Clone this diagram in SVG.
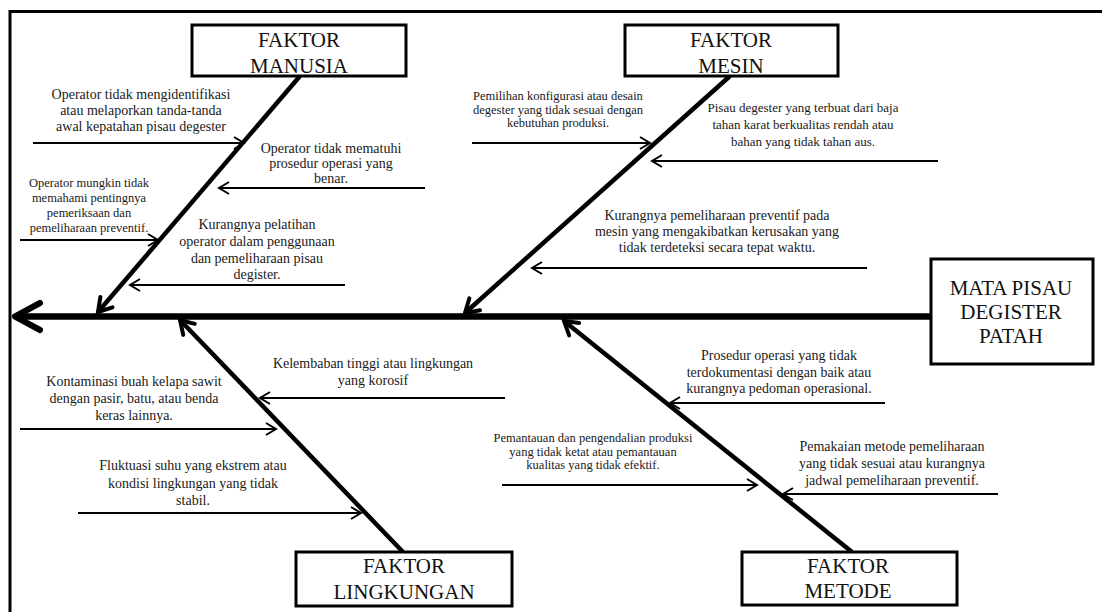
<svg xmlns="http://www.w3.org/2000/svg" width="1102" height="612" viewBox="0 0 1102 612">
<style>
.box{fill:#fff;stroke:#000;stroke-width:3}
.bt{font-family:"Liberation Serif","Times New Roman",serif;font-size:21px;fill:#111;text-anchor:middle}
.t{font-family:"Liberation Serif","Times New Roman",serif;font-size:14px;fill:#1a1a1a;text-anchor:middle}
.ts{font-family:"Liberation Serif","Times New Roman",serif;font-size:12.5px;fill:#1a1a1a;text-anchor:middle}
.sm{fill:none;stroke:#000;stroke-width:2;marker-end:url(#ah)}
.sp{fill:none;stroke:#000;stroke-width:4.5;marker-end:url(#sh)}
.frame{fill:none;stroke:#000;stroke-width:3}
</style>
<defs>
<marker id="ah" markerUnits="userSpaceOnUse" markerWidth="16" markerHeight="16" refX="12" refY="8" orient="auto" overflow="visible">
<path d="M2,2 L12,8 L2,14" fill="none" stroke="#000" stroke-width="2"/>
</marker>
<marker id="sh" markerUnits="userSpaceOnUse" markerWidth="20" markerHeight="20" refX="15" refY="10" orient="auto" overflow="visible">
<path d="M2,2 L15,10 L2,18" fill="none" stroke="#000" stroke-width="4" stroke-linecap="round"/>
</marker>
</defs>
<rect width="1102" height="612" fill="#fff"/>
<g id="frame">
<path class="frame" d="M10,612 L10,11.5 L1102,11.5"/>
</g>
<g id="connectors">
<line x1="930" y1="316.5" x2="16" y2="316.5" stroke="#000" stroke-width="6.5"/>
<path d="M40,303 L15,316.5 L40,330" fill="none" stroke="#000" stroke-width="6" stroke-linecap="round" stroke-linejoin="round"/>
<line class="sp" x1="300" y1="76" x2="98" y2="312"/>
<line class="sp" x1="730" y1="76" x2="465" y2="313"/>
<line class="sp" x1="403" y1="552" x2="180" y2="320"/>
<line class="sp" x1="852" y1="552" x2="564" y2="321"/>
<line class="sm" x1="33" y1="143" x2="244" y2="143"/>
<line class="sm" x1="425" y1="188" x2="219" y2="188"/>
<line class="sm" x1="20" y1="240" x2="158" y2="240"/>
<line class="sm" x1="345" y1="285" x2="130" y2="285"/>
<line class="sm" x1="472" y1="143" x2="650" y2="143"/>
<line class="sm" x1="938" y1="161" x2="652" y2="161"/>
<line class="sm" x1="867" y1="268" x2="532" y2="268"/>
<line class="sm" x1="505" y1="398" x2="260" y2="398"/>
<line class="sm" x1="20" y1="429" x2="276" y2="429"/>
<line class="sm" x1="78" y1="513" x2="361" y2="513"/>
<line class="sm" x1="885" y1="403" x2="670" y2="403"/>
<line class="sm" x1="502" y1="485" x2="757" y2="485"/>
<line class="sm" x1="998" y1="494" x2="783" y2="494"/>
</g>
<g id="head">
<rect class="box" x="931" y="259" width="162" height="105"/>
<text class="bt" x="1011" y="295">MATA PISAU</text>
<text class="bt" x="1011" y="319">DEGISTER</text>
<text class="bt" x="1011" y="343">PATAH</text>
</g>
<g id="faktor-manusia">
<rect class="box" x="192" y="25" width="214" height="51"/>
<text class="bt" x="299" y="47">FAKTOR</text>
<text class="bt" x="299" y="72.5">MANUSIA</text>
</g>
<g id="faktor-mesin">
<rect class="box" x="625" y="25" width="213" height="51"/>
<text class="bt" x="731" y="47">FAKTOR</text>
<text class="bt" x="731" y="72.5">MESIN</text>
</g>
<g id="faktor-lingkungan">
<rect class="box" x="296" y="552" width="216" height="54"/>
<text class="bt" x="404" y="573">FAKTOR</text>
<text class="bt" x="404" y="599">LINGKUNGAN</text>
</g>
<g id="faktor-metode">
<rect class="box" x="742" y="552" width="215" height="53"/>
<text class="bt" x="848" y="573">FAKTOR</text>
<text class="bt" x="848" y="598">METODE</text>
</g>
<g id="cause-m1">
<text class="t" x="141" y="99">Operator tidak mengidentifikasi</text>
<text class="t" x="141" y="115">atau melaporkan tanda-tanda</text>
<text class="t" x="141" y="131">awal kepatahan pisau degester</text>
</g>
<g id="cause-m2">
<text class="t" x="331" y="153">Operator tidak mematuhi</text>
<text class="t" x="331" y="168">prosedur operasi yang</text>
<text class="t" x="331" y="183">benar.</text>
</g>
<g id="cause-m3">
<text class="ts" x="89" y="187">Operator mungkin tidak</text>
<text class="ts" x="89" y="202">memahami pentingnya</text>
<text class="ts" x="89" y="217">pemeriksaan dan</text>
<text class="ts" x="89" y="232">pemeliharaan preventif.</text>
</g>
<g id="cause-m4">
<text class="t" x="257" y="229">Kurangnya pelatihan</text>
<text class="t" x="257" y="246">operator dalam penggunaan</text>
<text class="t" x="257" y="263">dan pemeliharaan pisau</text>
<text class="t" x="257" y="279">degister.</text>
</g>
<g id="cause-s1">
<text class="ts" x="558" y="100">Pemilihan konfigurasi atau desain</text>
<text class="ts" x="558" y="113.5">degester yang tidak sesuai dengan</text>
<text class="ts" x="558" y="127">kebutuhan produksi.</text>
</g>
<g id="cause-s2">
<text class="ts" x="803" y="112" style="font-size:13px">Pisau degester yang terbuat dari baja</text>
<text class="ts" x="803" y="129" style="font-size:13px">tahan karat berkualitas rendah atau</text>
<text class="ts" x="803" y="146" style="font-size:13px">bahan yang tidak tahan aus.</text>
</g>
<g id="cause-s3">
<text class="t" x="717" y="220">Kurangnya pemeliharaan preventif pada</text>
<text class="t" x="717" y="236">mesin yang mengakibatkan kerusakan yang</text>
<text class="t" x="717" y="252">tidak terdeteksi secara tepat waktu.</text>
</g>
<g id="cause-l1">
<text class="t" x="373" y="368">Kelembaban tinggi atau lingkungan</text>
<text class="t" x="373" y="385">yang korosif</text>
</g>
<g id="cause-l2">
<text class="t" x="134" y="386">Kontaminasi buah kelapa sawit</text>
<text class="t" x="134" y="403">dengan pasir, batu, atau benda</text>
<text class="t" x="134" y="420">keras lainnya.</text>
</g>
<g id="cause-l3">
<text class="t" x="193" y="470">Fluktuasi suhu yang ekstrem atau</text>
<text class="t" x="193" y="488">kondisi lingkungan yang tidak</text>
<text class="t" x="193" y="505">stabil.</text>
</g>
<g id="cause-t1">
<text class="t" x="779" y="360">Prosedur operasi yang tidak</text>
<text class="t" x="779" y="377">terdokumentasi dengan baik atau</text>
<text class="t" x="779" y="393">kurangnya pedoman operasional.</text>
</g>
<g id="cause-t2">
<text class="ts" x="593" y="442">Pemantauan dan pengendalian produksi</text>
<text class="ts" x="593" y="455.5">yang tidak ketat atau pemantauan</text>
<text class="ts" x="593" y="469">kualitas yang tidak efektif.</text>
</g>
<g id="cause-t3">
<text class="t" x="892" y="451">Pemakaian metode pemeliharaan</text>
<text class="t" x="892" y="468">yang tidak sesuai atau kurangnya</text>
<text class="t" x="892" y="485">jadwal pemeliharaan preventif.</text>
</g>
</svg>
